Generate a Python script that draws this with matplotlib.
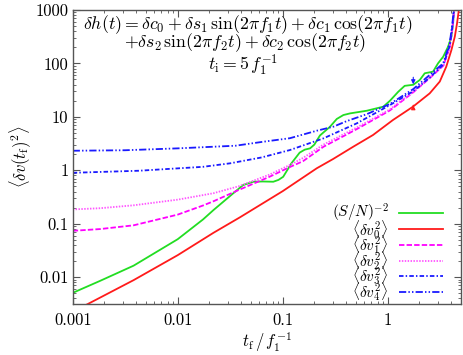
import matplotlib
matplotlib.use('Agg')
import matplotlib.pyplot as plt
from matplotlib.lines import Line2D
from matplotlib.ticker import LogLocator, FixedLocator, FixedFormatter, NullFormatter

plt.rcParams['font.family'] = 'serif'
plt.rcParams['font.serif'] = ['cmr10']
plt.rcParams['mathtext.fontset'] = 'cm'
plt.rcParams['axes.unicode_minus'] = False

# values (t_f in units of 1/f1)
red_t = [0.001, 0.0014, 0.0038, 0.01, 0.0219, 0.0392, 0.1, 0.211, 0.301, 0.468, 0.724,
         1.12, 1.74, 2.51, 3.13, 3.61, 4.04, 4.35, 4.57, 4.8]
red_v = [0.00224, 0.00316, 0.00879, 0.0258, 0.0676, 0.132, 0.407, 1.09, 1.62, 2.75, 4.57,
         8.71, 15.5, 27.5, 45.7, 87.1, 178, 316, 562, 1150]

sn_t = [0.001, 0.00182, 0.0038, 0.01, 0.0174, 0.0219, 0.0337, 0.0419, 0.0525,
        0.0646, 0.0813, 0.0912, 0.101, 0.121, 0.145, 0.162, 0.182, 0.20, 0.226,
        0.282, 0.327, 0.378, 0.438, 0.631, 0.908, 1.05, 1.26, 1.45, 1.75, 2.02,
        2.25, 2.70, 3.01, 3.37, 3.75, 4.04, 4.19, 4.29]
sn_v = [0.00508, 0.00851, 0.0164, 0.0513, 0.120, 0.180, 0.369, 0.528, 0.610,
        0.617, 0.610, 0.661, 0.755, 1.35, 2.14, 2.43, 2.57, 3.02, 4.47,
        6.53, 9.12, 10.8, 11.6, 13.0, 15.5, 20.0, 29.5, 38.0, 39.8, 49.0,
        65.3, 70.0, 100, 133, 204, 316, 562, 1122]

v4_t = [0.001, 0.00316, 0.01, 0.0355, 0.0653, 0.117, 0.211, 0.303, 0.407, 0.631,
        1.05, 1.75, 2.53, 3.37, 3.89, 4.13, 4.27]
v4_v = [2.32, 2.37, 2.57, 2.88, 3.42, 3.98, 5.50, 6.53, 8.32, 11.2,
        17.4, 33.1, 61.7, 100, 237, 562, 1122]

v3_t = [0.001, 0.00427, 0.0174, 0.0316, 0.0631, 0.117, 0.244, 0.507, 1.05, 1.75,
        2.53, 3.39, 3.89, 4.13, 4.29]
v3_v = [0.897, 0.98, 1.16, 1.35, 1.74, 2.39, 3.95, 7.55, 16.6, 30.2,
        55.0, 95.5, 214, 501, 1122]

v2_t = [0.001, 0.00182, 0.0038, 0.01, 0.0219, 0.038, 0.0752, 0.117, 0.156, 0.244,
        0.507, 1.05, 1.75, 2.53, 3.39, 3.89, 4.15, 4.31]
v2_v = [0.185, 0.195, 0.221, 0.282, 0.372, 0.501, 0.832, 1.26, 1.70, 3.02,
        6.31, 13.8, 29.5, 55.0, 93.3, 200, 501, 1122]

v1_t = [0.001, 0.00182, 0.0038, 0.01, 0.0174, 0.0219, 0.038, 0.0752, 0.117, 0.156,
        0.244, 0.507, 1.05, 1.75, 2.53, 3.39, 3.89, 4.15, 4.31]
v1_v = [0.0736, 0.0794, 0.0933, 0.148, 0.219, 0.263, 0.427, 0.759, 1.15, 1.48,
        2.75, 5.89, 13.2, 28.8, 53.7, 91.2, 200, 501, 1122]

xticks = [0.001, 0.01, 0.1, 1]
xticklabels = ['0.001', '0.01', '0.1', '1']
yticks = [0.01, 0.1, 1, 10, 100, 1000]
yticklabels = ['0.01', '0.1', '1', '10', '100', '1000']

f2_mark = 1.75  # little arrows in the original

labels = [r'$(S/N)^{-2}$', r'$\langle\delta v_0^2\rangle$', r'$\langle\delta v_1^2\rangle$',
          r'$\langle\delta v_2^2\rangle$', r'$\langle\delta v_3^2\rangle$', r'$\langle\delta v_4^2\rangle$']

green = '#22dd22'
red = '#ff1a1a'
magenta = '#ff00ff'
pink = '#ff55ff'
blue = '#1a1aff'

styles = [
    dict(color=green, ls='-'),
    dict(color=red, ls='-'),
    dict(color=magenta, ls=(0, (3, 1.2))),
    dict(color=pink, ls=(0, (0.8, 0.8))),
    dict(color=blue, ls=(0, (2.5, 1.2, 0.8, 1.2))),
    dict(color=blue, ls=(0, (4, 1.2, 0.8, 1.2, 0.8, 1.2))),
]
series = [(sn_t, sn_v), (red_t, red_v), (v1_t, v1_v), (v2_t, v2_v), (v3_t, v3_v), (v4_t, v4_v)]

fig = plt.figure(figsize=(4.63, 3.55), dpi=100)
ax = fig.add_axes([0.157, 0.144, 0.839, 0.828])

for (t, v), st in zip(series, styles):
    ax.plot(t, v, lw=1.3, **st)

ax.annotate('', xy=(f2_mark, 36), xytext=(f2_mark, 62),
            arrowprops=dict(arrowstyle='-|>', color=blue, lw=0.8, mutation_scale=6))
ax.annotate('', xy=(f2_mark, 16.5), xytext=(f2_mark, 14.5),
            arrowprops=dict(arrowstyle='-|>', color=red, lw=0.8, mutation_scale=6))

ax.set_xscale('log')
ax.set_yscale('log')
ax.set_xlim(0.001, 5)
ax.set_ylim(10**-2.5, 1000)

ax.xaxis.set_major_locator(FixedLocator(xticks))
ax.xaxis.set_major_formatter(FixedFormatter(xticklabels))
ax.yaxis.set_major_locator(FixedLocator(yticks))
ax.yaxis.set_major_formatter(FixedFormatter(yticklabels))
for a in (ax.xaxis, ax.yaxis):
    a.set_minor_locator(LogLocator(base=10, subs=range(2, 10), numticks=20))
    a.set_minor_formatter(NullFormatter())

ax.tick_params(which='both', direction='in', top=True, right=True, color='#555555')
ax.tick_params(which='major', length=5, width=0.8, labelsize=12)
ax.tick_params(which='minor', length=2.5, width=0.6)
ax.tick_params(axis='x', pad=6)
ax.tick_params(axis='y', pad=3)
for s in ax.spines.values():
    s.set_color('#555555')
    s.set_linewidth(1.0)

ax.set_xlabel(r'$t_\mathrm{f}\,/\,f_1^{-1}$', fontsize=12, labelpad=2)
ax.set_ylabel(r'$\langle\delta v(t_\mathrm{f})^2\rangle$', fontsize=12, labelpad=2)

eq_size = 12.8
ax.text(0.452, 0.935, r'$\delta h(t) = \delta c_0 + \delta s_1\,\sin(2\pi f_1 t) + \delta c_1\,\cos(2\pi f_1 t)$',
        transform=ax.transAxes, ha='center', va='baseline', fontsize=eq_size)
ax.text(0.443, 0.874, r'$+\delta s_2\,\sin(2\pi f_2 t) + \delta c_2\,\cos(2\pi f_2 t)$',
        transform=ax.transAxes, ha='center', va='baseline', fontsize=eq_size)
ax.text(0.438, 0.796, r'$t_\mathrm{i} = 5\,f_1^{-1}$',
        transform=ax.transAxes, ha='center', va='baseline', fontsize=eq_size)

# gnuplot style key, drawn by hand
rows = [0.3085, 0.254, 0.2007, 0.1473, 0.0952, 0.0418]
for lab, st, yy in zip(labels, styles, rows):
    ax.text(0.813, yy, lab, transform=ax.transAxes, ha='right', va='center', fontsize=11)
    ax.add_line(Line2D([0.841, 0.952], [yy, yy], transform=ax.transAxes, lw=1.3, **st))

fig.savefig('out.png', dpi=100)
